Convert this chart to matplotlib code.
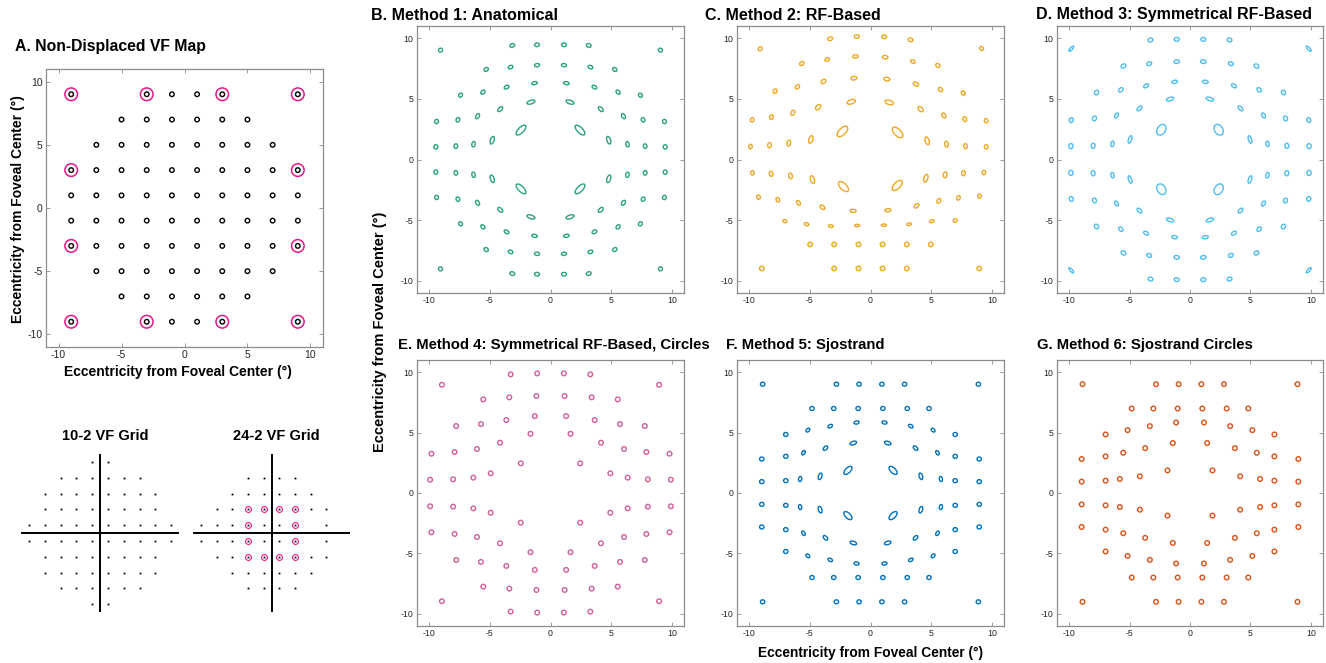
import matplotlib
matplotlib.use("Agg")
import matplotlib.pyplot as plt
from matplotlib.patches import Ellipse
import numpy as np

plt.rcParams['font.family'] = ['Liberation Sans', 'DejaVu Sans']
plt.rcParams['axes.unicode_minus'] = False

# ---------------- data ----------------
# A: non-displaced map, one quadrant (x>0, y>0), mirrored into the others
a_x = [1, 3, 5, 7, 9, 1, 3, 5, 7, 9, 1, 3, 5, 7, 1, 3, 5, 1, 3, 9]
a_y = [1, 1, 1, 1, 1, 3, 3, 3, 3, 3, 5, 5, 5, 5, 7, 7, 7, 9, 9, 9]
a_ring_x = [9, 3, 9]      # 24-2 points inside the 10-2 area
a_ring_y = [3, 9, 9]

# 10-2 grid, one quadrant
g102_x = [1, 3, 5, 7, 9, 1, 3, 5, 7, 1, 3, 5, 7, 1, 3, 5, 1]
g102_y = [1, 1, 1, 1, 1, 3, 3, 3, 3, 5, 5, 5, 5, 7, 7, 7, 9]

# 24-2 grid, row by row (right eye, blind spot at (15, +-3) missing)
g242_rows_y = [21, 15, 9, 3, -3, -9, -15, -21]
g242_rows_x = [[-9, -3, 3, 9],
               [-15, -9, -3, 3, 9, 15],
               [-21, -15, -9, -3, 3, 9, 15, 21],
               [-27, -21, -15, -9, -3, 3, 9, 21],
               [-27, -21, -15, -9, -3, 3, 9, 21],
               [-21, -15, -9, -3, 3, 9, 15, 21],
               [-15, -9, -3, 3, 9, 15],
               [-9, -3, 3, 9]]
g242_ring_x = [-9, -3, 3, 9, -9, 9, -9, 9, -9, -3, 3, 9]
g242_ring_y = [9, 9, 9, 9, 3, 3, -3, -3, -9, -9, -9, -9]

# B: Method 1 anatomical (quadrant): x, y, major, minor, angle
b_x = [1.11, 3.15, 9.06, 1.11, 3.29, 5.30, 1.31, 3.62, 5.57, 7.41,
       1.61, 4.14, 6.01, 7.63, 9.39, 2.43, 4.80, 6.34, 7.80, 9.45]
b_y = [9.45, 9.40, 9.01, 7.77, 7.61, 7.42, 6.29, 5.96, 5.55, 5.30,
       4.73, 4.15, 3.57, 3.27, 3.13, 2.42, 1.59, 1.26, 1.10, 1.04]
b_w = [0.40, 0.40, 0.34, 0.42, 0.40, 0.38, 0.46, 0.42, 0.40, 0.36,
       0.68, 0.50, 0.45, 0.37, 0.35, 1.05, 0.65, 0.45, 0.38, 0.36]
b_h = [0.30, 0.30, 0.32, 0.27, 0.28, 0.30, 0.25, 0.27, 0.28, 0.30,
       0.30, 0.28, 0.28, 0.30, 0.32, 0.45, 0.30, 0.28, 0.30, 0.32]
b_a = [-7, -18, -45, -8, -23, -35, -12, -31, -45, -54,
       -18, -45, -59, -67, -72, -45, -72, -79, -82, -84]

# C: Method 2 RF-based (not symmetric, all points)
c_x = [-9.09, -3.32, -1.13, 1.13, 3.30, 9.15,
       -5.66, -3.57, -1.24, 1.21, 3.49, 5.55,
       -7.86, -6.02, -3.87, -1.37, 1.35, 3.74, 5.77, 7.64,
       -9.75, -8.16, -6.40, -4.31, -1.59, 1.54, 4.12, 6.04, 7.77, 9.53,
       -9.89, -8.32, -6.73, -4.92, -2.31, 2.23, 4.67, 6.26, 7.83, 9.53,
       -9.73, -8.19, -6.59, -4.78, -2.23, 2.20, 4.56, 6.15, 7.66, 9.34,
       -9.23, -7.64, -5.93, -3.96, -1.43, 1.43, 3.79, 5.63, 7.25, 8.98,
       -7.06, -5.27, -3.27, -1.10, 1.10, 3.19, 5.05, 6.98,
       -4.97, -2.99, -0.99, 0.99, 2.99, 4.97,
       -8.96, -2.99, -0.99, 0.99, 2.99, 8.96]
c_y = [9.12, 9.95, 10.14, 10.11, 9.86, 9.15,
       7.91, 8.24, 8.49, 8.43, 8.08, 7.75,
       5.63, 5.99, 6.43, 6.70, 6.62, 6.21, 5.77, 5.47,
       3.27, 3.49, 3.85, 4.31, 4.75, 4.70, 4.15, 3.63, 3.32, 3.19,
       1.07, 1.18, 1.35, 1.65, 2.31, 2.23, 1.54, 1.26, 1.10, 1.04,
       -1.10, -1.18, -1.35, -1.65, -2.23, -2.14, -1.54, -1.26, -1.13, -1.07,
       -3.10, -3.32, -3.57, -3.93, -4.23, -4.18, -3.82, -3.41, -3.16, -3.02,
       -5.08, -5.33, -5.49, -5.44, -5.41, -5.33, -5.08, -5.03,
       -7.0, -7.0, -7.0, -7.0, -7.0, -7.0,
       -8.98, -8.98, -8.98, -8.98, -8.98, -8.98]
c_w = [0.36, 0.40, 0.40, 0.40, 0.40, 0.36,
       0.38, 0.40, 0.45, 0.45, 0.40, 0.38,
       0.38, 0.40, 0.45, 0.50, 0.50, 0.45, 0.40, 0.38,
       0.36, 0.40, 0.45, 0.52, 0.70, 0.70, 0.52, 0.45, 0.40, 0.36,
       0.36, 0.42, 0.48, 0.65, 1.10, 1.10, 0.65, 0.48, 0.42, 0.36,
       0.36, 0.42, 0.48, 0.65, 1.05, 1.05, 0.65, 0.48, 0.42, 0.36,
       0.36, 0.38, 0.42, 0.45, 0.50, 0.50, 0.45, 0.42, 0.38, 0.36,
       0.34, 0.38, 0.40, 0.42, 0.42, 0.40, 0.38, 0.34,
       0.38, 0.38, 0.38, 0.38, 0.38, 0.38,
       0.38, 0.38, 0.38, 0.38, 0.38, 0.38]
c_h = [0.30, 0.30, 0.30, 0.30, 0.30, 0.30,
       0.30, 0.28, 0.28, 0.28, 0.28, 0.30,
       0.30, 0.30, 0.30, 0.30, 0.30, 0.30, 0.30, 0.30,
       0.30, 0.30, 0.30, 0.32, 0.35, 0.35, 0.32, 0.30, 0.30, 0.30,
       0.30, 0.30, 0.30, 0.32, 0.55, 0.55, 0.32, 0.30, 0.30, 0.30,
       0.30, 0.30, 0.30, 0.32, 0.52, 0.52, 0.32, 0.30, 0.30, 0.30,
       0.30, 0.28, 0.28, 0.28, 0.26, 0.26, 0.28, 0.28, 0.28, 0.30,
       0.26, 0.24, 0.22, 0.20, 0.20, 0.22, 0.24, 0.28,
       0.36, 0.36, 0.36, 0.36, 0.36, 0.36,
       0.36, 0.36, 0.36, 0.36, 0.36, 0.36]
c_a = [45, 18, 6, -6, -18, -45,
       35, 23, 8, -8, -23, -35,
       55, 45, 31, 12, -12, -31, -45, -55,
       72, 67, 59, 45, 18, -18, -45, -59, -67, -72,
       84, 82, 79, 72, 45, -45, -72, -79, -82, -84,
       -84, -82, -79, -72, -45, 45, 72, 79, 82, 84,
       -70, -65, -58, -40, -5, 5, 40, 58, 65, 70,
       -20, -20, -10, 0, 0, 10, 20, 20,
       0, 0, 0, 0, 0, 0,
       0, 0, 0, 0, 0, 0]

# D: Method 3 symmetrical RF-based (quadrant)
d_x = [1.10, 3.27, 9.82, 1.10, 3.38, 5.50, 1.27, 3.63, 5.72, 7.73,
       1.65, 4.18, 6.08, 7.90, 9.82, 2.37, 4.96, 6.41, 8.01, 9.85]
d_y = [9.90, 9.85, 9.13, 8.06, 7.90, 7.70, 6.40, 6.07, 5.74, 5.52,
       4.98, 4.21, 3.63, 3.38, 3.25, 2.45, 1.65, 1.29, 1.13, 1.10]
d_w = [0.40, 0.40, 0.55, 0.45, 0.42, 0.42, 0.48, 0.45, 0.42, 0.40,
       0.64, 0.50, 0.46, 0.40, 0.40, 0.95, 0.64, 0.46, 0.42, 0.42]
d_h = [0.32, 0.32, 0.20, 0.30, 0.30, 0.32, 0.26, 0.27, 0.30, 0.33,
       0.28, 0.27, 0.27, 0.32, 0.33, 0.68, 0.26, 0.27, 0.32, 0.35]
d_a = [-6, -18, -47, -8, -23, -35, -11, -31, -45, -55,
       -18, -45, -59, -67, -72, -58, -72, -79, -82, -84]

# E: Method 4 symmetrical RF-based, circles (quadrant)
e_x = [1.10, 3.28, 8.95, 1.16, 3.39, 5.54, 1.29, 3.64, 5.73, 7.77,
       1.65, 4.16, 6.06, 7.90, 9.81, 2.45, 4.93, 6.36, 8.02, 9.92]
e_y = [9.89, 9.81, 8.95, 8.02, 7.91, 7.74, 6.36, 6.03, 5.70, 5.54,
       4.90, 4.16, 3.64, 3.39, 3.25, 2.45, 1.63, 1.27, 1.13, 1.10]

# F: Method 5 Sjostrand (quadrant)
f_x = [0.94, 2.81, 8.89, 1.02, 3.03, 4.82, 1.15, 3.32, 5.16, 6.98,
       1.42, 3.71, 5.52, 6.98, 8.96, 1.86, 4.15, 5.80, 6.98, 8.96]
f_y = [9.00, 9.00, 9.00, 6.99, 6.99, 6.99, 5.83, 5.53, 5.20, 4.84,
       4.13, 3.71, 3.33, 3.03, 2.81, 1.87, 1.38, 1.16, 1.02, 0.94]
f_w = [0.36, 0.36, 0.36, 0.36, 0.36, 0.36, 0.42, 0.40, 0.37, 0.36,
       0.56, 0.46, 0.40, 0.36, 0.36, 0.85, 0.56, 0.42, 0.36, 0.36]
f_h = [0.33, 0.33, 0.33, 0.33, 0.33, 0.33, 0.26, 0.25, 0.25, 0.33,
       0.28, 0.27, 0.25, 0.33, 0.33, 0.42, 0.28, 0.26, 0.33, 0.33]
f_a = [0, 0, 0, 0, 0, 0, -10, -30, -45, 0,
       -18, -45, -60, 0, 0, -45, -72, -80, 0, 0]

# G: Method 6 Sjostrand circles (quadrant)
g_x = [0.94, 2.81, 8.89, 1.02, 3.03, 4.82, 1.15, 3.32, 5.16, 6.98,
       1.42, 3.71, 5.52, 6.98, 8.96, 1.86, 4.15, 5.80, 6.98, 8.96]
g_y = [9.00, 9.00, 9.00, 6.99, 6.99, 6.99, 5.83, 5.53, 5.20, 4.84,
       4.13, 3.71, 3.33, 3.03, 2.81, 1.87, 1.38, 1.16, 1.02, 0.94]

titles = ["A. Non-Displaced VF Map", "B. Method 1: Anatomical", "C. Method 2: RF-Based",
          "D. Method 3: Symmetrical RF-Based", "E. Method 4: Symmetrical RF-Based, Circles",
          "F. Method 5: Sjostrand", "G. Method 6: Sjostrand Circles"]
ecc_label = "Eccentricity from Foveal Center (°)"
ticks = [-10, -5, 0, 5, 10]

# ---------------- helpers ----------------
W, H = 1326, 663
fig = plt.figure(figsize=(W / 100, H / 100), dpi=100)


def px_axes(left, top, right, bottom):
    return fig.add_axes([left / W, 1 - bottom / H, (right - left) / W, (bottom - top) / H])


def mirror(x, y, *extra, ang=None):
    x = np.asarray(x, float)
    y = np.asarray(y, float)
    out = [np.concatenate([x, -x, x, -x]), np.concatenate([y, y, -y, -y])]
    for e in extra:
        out.append(np.tile(e, 4))
    if ang is not None:
        a = np.asarray(ang, float)
        out.append(np.concatenate([a, -a, -a, a]))
    return out


def style(ax, fs):
    ax.set_xlim(-11, 11)
    ax.set_ylim(-11, 11)
    ax.set_xticks(ticks)
    ax.set_yticks(ticks)
    ax.tick_params(direction='in', top=True, right=True, length=3, width=0.6,
                   color='#8c8c8c', labelcolor='#262626', labelsize=fs, pad=2.5)
    for s in ax.spines.values():
        s.set_color('#8c8c8c')
        s.set_linewidth(0.9)


def ellipses(ax, xs, ys, ws, hs, angs, color, lw=1.0):
    for xi, yi, wi, hi, ai in zip(xs, ys, ws, hs, angs):
        ax.add_patch(Ellipse((xi, yi), wi, hi, angle=ai, fill=False,
                             edgecolor=color, lw=lw))


# ---------------- A ----------------
axA = px_axes(46, 69, 323, 347)
style(axA, 7.5)
ax_, ay_ = mirror(a_x, a_y)
n = len(ax_)
ellipses(axA, ax_, ay_, [0.36] * n, [0.36] * n, [0] * n, 'black')
rx, ry = mirror(a_ring_x, a_ring_y)
ellipses(axA, rx, ry, [1.0] * len(rx), [1.0] * len(rx), [0] * len(rx), '#e8178a', lw=1.1)
fig.text(15 / W, 1 - 47 / H, titles[0], fontsize=11.3, fontweight='bold', va='center', ha='left')
fig.text(178 / W, 1 - 372 / H, ecc_label, fontsize=10, fontweight='bold', va='center', ha='center')
fig.text(18 / W, 1 - 209 / H, ecc_label, fontsize=10, fontweight='bold', va='center',
         ha='center', rotation=90)

# ---------------- 10-2 / 24-2 grids ----------------
ax102 = px_axes(21, 454, 179, 612)
ax102.set_xlim(-10, 10)
ax102.set_ylim(-10, 10)
ax102.axis('off')
ax102.axhline(0, color='black', lw=1.4)
ax102.axvline(0, color='black', lw=1.4)
gx, gy = mirror(g102_x, g102_y)
ax102.plot(gx, gy, 's', ms=1.3, color='black', mec='none')

ax242 = px_axes(193, 454, 350, 612)
ax242.set_xlim(-30, 30)
ax242.set_ylim(-30, 30)
ax242.axis('off')
ax242.axhline(0, color='black', lw=1.4)
ax242.axvline(0, color='black', lw=1.4)
for yy, row in zip(g242_rows_y, g242_rows_x):
    ax242.plot(row, [yy] * len(row), 's', ms=1.3, color='black', mec='none')
ax242.plot(g242_ring_x, g242_ring_y, 'o', ms=4.2, mfc='none', mec='#e8178a', mew=0.8)

fig.text(105 / W, 1 - 436 / H, "10-2 VF Grid", fontsize=10.5, fontweight='bold', va='center', ha='center')
fig.text(276 / W, 1 - 436 / H, "24-2 VF Grid", fontsize=10.5, fontweight='bold', va='center', ha='center')

# ---------------- B - G ----------------
col_left = [417, 737, 1057]
col_right = [684, 1004, 1323]
row_top = [26, 360]
row_bot = [293, 626]
title_pos = [(371, 15), (705, 15), (1036, 15), (398, 345), (726, 345), (1037, 345)]
title_size = [11.5, 11.5, 11.5, 10.7, 10.7, 10.7]

panels = []
for r in range(2):
    for c in range(3):
        ax = px_axes(col_left[c], row_top[r], col_right[c], row_bot[r])
        style(ax, 6.3)
        panels.append(ax)

# B
xs, ys, ws, hs, angs = mirror(b_x, b_y, b_w, b_h, ang=b_a)
ellipses(panels[0], xs, ys, ws, hs, angs, '#2ba37a')
# C
ellipses(panels[1], c_x, c_y, c_w, c_h, c_a, '#eea722')
# D
xs, ys, ws, hs, angs = mirror(d_x, d_y, d_w, d_h, ang=d_a)
ellipses(panels[2], xs, ys, ws, hs, angs, '#4dbeee')
# E
xs, ys = mirror(e_x, e_y)
ellipses(panels[3], xs, ys, [0.38] * len(xs), [0.38] * len(xs), [0] * len(xs), '#cf5f9c')
# F
xs, ys, ws, hs, angs = mirror(f_x, f_y, f_w, f_h, ang=f_a)
ellipses(panels[4], xs, ys, ws, hs, angs, '#0072bd')
# G
xs, ys = mirror(g_x, g_y)
ellipses(panels[5], xs, ys, [0.38] * len(xs), [0.38] * len(xs), [0] * len(xs), '#d95319')

for (tx, ty), t, fs in zip(title_pos, titles[1:], title_size):
    fig.text(tx / W, 1 - ty / H, t, fontsize=fs, fontweight='bold', va='center', ha='left')

fig.text(380 / W, 1 - 332 / H, ecc_label, fontsize=10.5, fontweight='bold', va='center',
         ha='center', rotation=90)
fig.text(871 / W, 1 - 653 / H, ecc_label, fontsize=9.9, fontweight='bold', va='center', ha='center')

fig.savefig("out.png", dpi=100)
